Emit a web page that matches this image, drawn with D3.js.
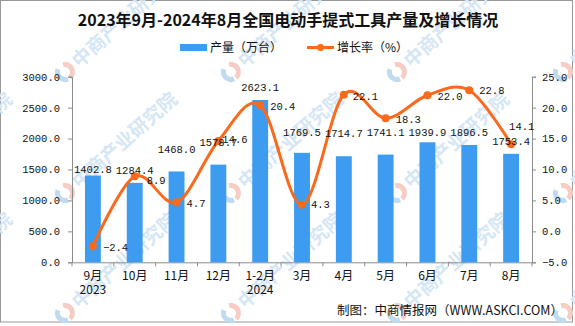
<!DOCTYPE html>
<html>
<head>
<meta charset="utf-8">
<script src="https://cdn.jsdelivr.net/npm/d3@7"></script>
<style>
  body { margin: 0; background: #fff; }
  svg { display: block; }
  .num { font-family: "Liberation Mono", "DejaVu Sans Mono", monospace; font-size: 10.5px; fill: #111; }
  .cjk { font-family: "Noto Sans CJK SC", sans-serif; }
</style>
</head>
<body>
<svg id="chart" width="575" height="326"></svg>
<script>
// 月份、产量（万台）、增长率（%）
const months = ["9月", "10月", "11月", "12月", "1-2月", "3月", "4月", "5月", "6月", "7月", "8月"];
const years = ["2023", "", "", "", "2024", "", "", "", "", "", ""];
const output = [1402.8, 1284.4, 1468.0, 1578.7, 2623.1, 1769.5, 1714.7, 1741.1, 1939.9, 1896.5, 1753.4];
const growth = [-2.4, 8.9, 4.7, 14.6, 20.4, 4.3, 22.1, 18.3, 22.0, 22.8, 14.1];
const leftTicks = [0, 500, 1000, 1500, 2000, 2500, 3000];
const rightTicks = [-5, 0, 5, 10, 15, 20, 25];

const titleText = "2023年9月-2024年8月全国电动手提式工具产量及增长情况";
const legendNames = ["产量（万台）", "增长率（%）"];
const sourceText = "制图：中商情报网（WWW.ASKCI.COM）";
const markText = "中商产业研究院";

// 标签微调（像素）
const barLabelLift = [6.5, 13, 22, 22, 13, 21, 23, 22, 9.5, 13, 12];
const rateLabelShift = [[10, 1], [12, 4], [10, 1], [4, -2], [10, 1], [9, 0], [9, 2], [10, 1], [10, 1], [10, 0], [-2, -18]];

const blue = "#3d9cef", orange = "#fa6a1c", axisGrey = "#8c8c8c";
const box = { left: 72, right: 532, top: 76.7, bottom: 262.3 };

const svg = d3.select("#chart");

// 外框
svg.append("rect")
  .attr("x", 0.5).attr("y", 0.5)
  .attr("width", 572).attr("height", 321.5)
  .attr("fill", "#fff").attr("stroke", "#999");

// 水印
const marks = svg.append("g").attr("class", "watermark");
[-100, 65, 231, 397, 563].forEach(mx => {
  [72, 193, 313].forEach(my => {
    const g = marks.append("g").attr("transform", `translate(${mx},${my}) rotate(-41.6)`);
    const arc = d3.arc().innerRadius(5).outerRadius(10);
    g.append("path").attr("d", arc({ startAngle: Math.PI * 0.15, endAngle: Math.PI * 1.0 }))
      .attr("fill", "#f5cdc5");
    g.append("path").attr("d", arc({ startAngle: Math.PI * 1.1, endAngle: Math.PI * 1.85 }))
      .attr("fill", "#c0dbf0");
    g.append("text").attr("class", "cjk")
      .attr("x", 13).attr("y", 0).attr("dy", "0.36em")
      .attr("font-size", 19).attr("font-weight", 700)
      .attr("fill", "#d5e6f4")
      .text(markText);
  });
});

// 比例尺
const x = d3.scaleBand().domain(months)
  .range([box.left, box.right])
  .paddingInner(0.62).paddingOuter(0.31);
const xCat = d3.scaleBand().domain(months).range([box.left, box.right]);
const yL = d3.scaleLinear().domain([0, 3000]).range([box.bottom, box.top]);
const yR = d3.scaleLinear().domain([-5, 25]).range([box.bottom, box.top]);
const cx = d => xCat(d) + xCat.bandwidth() / 2;

// 坐标轴
const fmt = d3.format(".1f");
const leftAxis = svg.append("g")
  .attr("transform", `translate(${box.left},0)`)
  .call(d3.axisLeft(yL).tickValues(leftTicks).tickFormat(fmt).tickSize(4).tickPadding(8));
const rightAxis = svg.append("g")
  .attr("transform", `translate(${box.right},0)`)
  .call(d3.axisRight(yR).tickValues(rightTicks).tickFormat(fmt).tickSize(4).tickPadding(6));
[leftAxis, rightAxis].forEach(a => {
  a.select(".domain").attr("stroke", axisGrey);
  a.selectAll(".tick line").attr("stroke", axisGrey);
  a.selectAll(".tick text").attr("class", "num").attr("fill", "#111");
});

const bottomAxis = svg.append("g")
  .attr("transform", `translate(0,${box.bottom})`)
  .call(d3.axisBottom(xCat).tickSize(0).tickPadding(0));
bottomAxis.select(".domain").attr("stroke", axisGrey);
bottomAxis.selectAll(".tick text").remove();
bottomAxis.selectAll(".tick").each(function (d, i) {
  const t = d3.select(this).append("text")
    .attr("class", "cjk").attr("font-size", 12).attr("fill", "#111")
    .attr("text-anchor", "middle");
  t.append("tspan").attr("x", 0).attr("y", 18).text(d);
  if (years[i]) t.append("tspan").attr("x", 0).attr("y", 31.5).text(years[i]);
});
bottomAxis.selectAll(".boundary")
  .data(d3.range(months.length + 1))
  .join("line")
  .attr("class", "boundary")
  .attr("x1", i => box.left + i * xCat.step())
  .attr("x2", i => box.left + i * xCat.step())
  .attr("y1", 0).attr("y2", 4)
  .attr("stroke", axisGrey);

// 柱形：产量
svg.append("g").selectAll("rect")
  .data(months)
  .join("rect")
  .attr("x", d => x(d))
  .attr("y", (d, i) => yL(output[i]))
  .attr("width", x.bandwidth())
  .attr("height", (d, i) => yL(0) - yL(output[i]))
  .attr("fill", blue);

// 折线：增长率
const line = d3.line()
  .x((d, i) => cx(months[i]))
  .y(d => yR(d))
  .curve(d3.curveCardinal.tension(0));
svg.append("path")
  .datum(growth)
  .attr("d", line)
  .attr("fill", "none")
  .attr("stroke", orange)
  .attr("stroke-width", 3);
svg.append("g").selectAll("circle")
  .data(growth)
  .join("circle")
  .attr("cx", (d, i) => cx(months[i]))
  .attr("cy", d => yR(d))
  .attr("r", 4)
  .attr("fill", orange);

// 数据标签
svg.append("g").selectAll("text")
  .data(output)
  .join("text")
  .attr("class", "num")
  .attr("text-anchor", "middle")
  .attr("x", (d, i) => cx(months[i]))
  .attr("y", (d, i) => yL(d) - barLabelLift[i])
  .attr("dy", "0.35em")
  .text(d => fmt(d));
svg.append("g").selectAll("text")
  .data(growth)
  .join("text")
  .attr("class", "num")
  .attr("x", (d, i) => cx(months[i]) + rateLabelShift[i][0])
  .attr("y", (d, i) => yR(d) + rateLabelShift[i][1])
  .attr("dy", "0.35em")
  .text(d => fmt(d));

// 标题
svg.append("text")
  .attr("class", "cjk")
  .attr("x", 288).attr("y", 26)
  .attr("text-anchor", "middle")
  .attr("font-size", 16).attr("font-weight", 700)
  .attr("fill", "#111")
  .text(titleText);

// 图例
const legend = svg.append("g").attr("transform", "translate(0,47.5)");
legend.append("rect").attr("x", 180).attr("y", -3.5).attr("width", 27).attr("height", 7).attr("fill", blue);
legend.append("text").attr("class", "cjk").attr("x", 210).attr("dy", "0.35em")
  .attr("font-size", 12).attr("fill", "#111").text(legendNames[0]);
legend.append("line").attr("x1", 307).attr("x2", 334).attr("stroke", orange).attr("stroke-width", 3);
legend.append("circle").attr("cx", 320.5).attr("r", 3.5).attr("fill", orange);
legend.append("text").attr("class", "cjk").attr("x", 337).attr("dy", "0.35em")
  .attr("font-size", 12).attr("fill", "#111").text(legendNames[1]);

// 来源
svg.append("text")
  .attr("class", "cjk")
  .attr("x", 563).attr("y", 311).attr("dy", "0.35em")
  .attr("text-anchor", "end")
  .attr("font-size", 12.5).attr("fill", "#111")
  .text(sourceText);
</script>
</body>
</html>
